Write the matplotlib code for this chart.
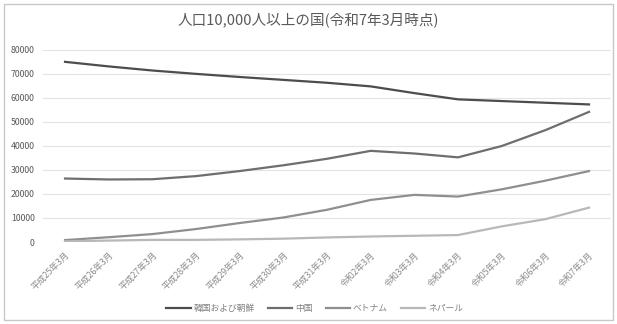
import matplotlib.pyplot as plt
from matplotlib.patches import Rectangle

plt.rcParams['font.family'] = ['Noto Sans CJK JP', 'DejaVu Sans']

# categories (x axis)
months = ['平成25年3月', '平成26年3月', '平成27年3月', '平成28年3月', '平成29年3月',
          '平成30年3月', '平成31年3月', '令和2年3月', '令和3年3月', '令和4年3月',
          '令和5年3月', '令和6年3月', '令和7年3月']

# population per country
korea = [74900, 73000, 71300, 69900, 68600, 67400, 66200, 64700, 61900, 59300, 58600, 57900, 57200]
china = [26400, 26000, 26100, 27400, 29500, 31900, 34600, 37900, 36800, 35200, 39900, 46500, 54100]
vietnam = [800, 2000, 3300, 5400, 7900, 10200, 13400, 17500, 19600, 18900, 21900, 25500, 29500]
nepal = [300, 600, 900, 900, 1100, 1400, 1900, 2300, 2600, 2900, 6500, 9500, 14300]

series_names = ['韓国および朝鮮', '中国', 'ベトナム', 'ネパール']
series_colors = ['#4d4d4d', '#6e6e6e', '#8f8f8f', '#b8b8b8']

fig = plt.figure(figsize=(6.17, 3.24), dpi=100)
ax = fig.add_axes([0.07, 0.253, 0.92, 0.594])

x = range(len(months))
for vals, name, col in zip([korea, china, vietnam, nepal], series_names, series_colors):
    ax.plot(x, vals, color=col, linewidth=1.6, label=name)

ax.set_xlim(-0.5, len(months) - 0.5)
ax.set_ylim(0, 80000)
ax.set_yticks(range(0, 80001, 10000))
ax.tick_params(axis='y', labelsize=6.3, colors='#595959', length=0, pad=6)
ax.set_xticks(list(x))
ax.set_xticklabels(months, rotation=45, ha='right', rotation_mode='anchor',
                   fontsize=6.3, color='#8a8a8a')
ax.tick_params(axis='x', length=0, pad=6)
ax.grid(axis='y', color='#e4e4e4', linewidth=0.8)
ax.set_axisbelow(True)
for s in ax.spines.values():
    s.set_visible(False)

fig.text(0.5, 0.935, '人口10,000人以上の国(令和7年3月時点)', ha='center', va='center',
         fontsize=10.5, color='#595959')

fig.legend(loc='center', bbox_to_anchor=(0.51, 0.048), ncol=4, frameon=False,
           fontsize=6.3, labelcolor='#808080', handlelength=2.8, columnspacing=1.5,
           handletextpad=0.3)

fig.patches.append(Rectangle((0.006, 0.012), 0.988, 0.976, transform=fig.transFigure,
                             fill=False, edgecolor='#c8c8c8', linewidth=1))

fig.savefig('out.png', dpi=100)
